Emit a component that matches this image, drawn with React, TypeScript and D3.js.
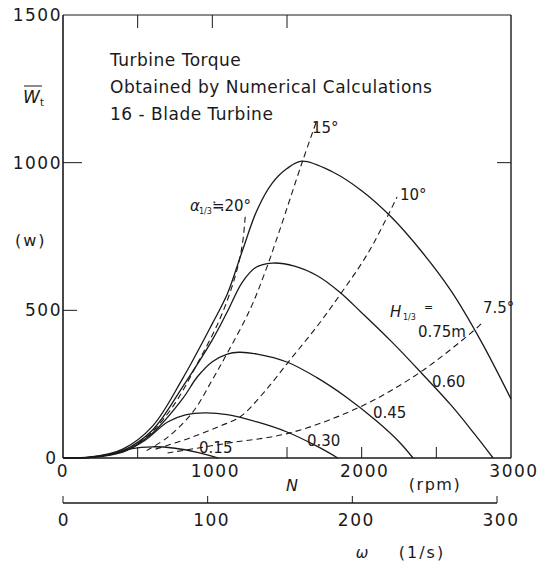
import React from "react";
import * as d3 from "d3";

// ---- data (N in rpm, W in watts) ----
const xTicks = [0, 1000, 2000, 3000];
const yTicks = [0, 500, 1000, 1500];
const omegaTicks = [0, 100, 200, 300];

const h015: [number, number][] = [[0,0],[150,2],[300,11],[450,31],[600,38],[750,33],[900,19],[1040,0]];
const h030: [number, number][] = [[0,0],[200,2],[400,20],[550,60],[700,122],[820,146],[950,153],[1100,147],[1300,122],[1500,88],[1700,40],[1840,0]];
const h045: [number, number][] = [[0,0],[200,3],[400,22],[600,85],[800,200],[900,275],[1000,326],[1100,352],[1180,358],[1300,352],[1500,325],[1700,272],[1900,205],[2100,125],[2250,55],[2344,0]];
const h060: [number, number][] = [[0,0],[200,3],[400,25],[600,95],[800,240],[1000,400],[1100,495],[1200,595],[1290,645],[1400,660],[1550,650],[1700,618],[1850,563],[2000,492],[2200,394],[2400,288],[2600,178],[2750,85],[2880,0]];
const h075: [number, number][] = [[0,0],[200,4],[400,30],[600,108],[800,268],[1000,455],[1100,555],[1200,700],[1300,840],[1400,930],[1500,980],[1600,1005],[1800,970],[2000,905],[2200,815],[2400,700],[2600,565],[2800,395],[3000,200]];

const a20: [number, number][] = [[450,30],[600,90],[750,185],[900,320],[1050,470],[1150,610],[1200,720],[1222,830]];
const a15: [number, number][] = [[560,25],[700,70],[870,156],[1000,265],[1100,355],[1250,500],[1350,625],[1450,770],[1600,999],[1701,1145]];
const a10: [number, number][] = [[620,30],[850,68],[1050,108],[1185,139],[1350,225],[1520,332],[1700,445],[1868,562],[2050,700],[2237,884]];
const a75: [number, number][] = [[700,17],[1100,50],[1520,85],[1989,173],[2391,290],[2779,444],[2815,462]];

const solidSeries = [h015, h030, h045, h060, h075];
const dashedSeries = [a20, a15, a10, a75];

const hLabels = ["0.15", "0.30", "0.45", "0.60", "0.75m"];
const hLabelPos: [number, number][] = [[911,17],[1634,41],[2076,135],[2471,240],[2377,410]];
const angleLabels = ["7.5°", "10°", "15°"];
const angleLabelPos: [number, number][] = [[2812,491],[2257,874],[1667,1100]];

const titleLines = ["Turbine Torque", "Obtained by Numerical Calculations", "16 - Blade Turbine"];

export default function App() {
  const W = 554, H = 567;
  const x = d3.scaleLinear().domain([0, 3000]).range([63, 511]);
  const y = d3.scaleLinear().domain([0, 1500]).range([458, 15]);
  const xo = d3.scaleLinear().domain([0, 300]).range([63, 497]);
  const line = d3.line<[number, number]>().x(d => x(d[0])).y(d => y(d[1])).curve(d3.curveCatmullRom.alpha(0.5));
  const font = "'DejaVu Sans', sans-serif";
  const ink = "#1a1a1a";

  return (
    <svg width={W} height={H} style={{ position: "absolute", left: 0, top: 0, background: "#fff" }} fontFamily={font}>
      <rect x={0} y={0} width={W} height={H} fill="#fff" />
      {/* frame */}
      <line x1={x(0)} x2={x(0)} y1={y(0)} y2={y(1500)} stroke={ink} strokeWidth={1.6} />
      <line x1={x(0)} x2={x(3000)} y1={y(0)} y2={y(0)} stroke={ink} strokeWidth={1.6} />
      <line x1={x(0)} x2={x(3000)} y1={y(1500)} y2={y(1500)} stroke={ink} strokeWidth={1.2} />
      <line x1={x(3000)} x2={x(3000)} y1={y(0)} y2={y(1500)} stroke={ink} strokeWidth={1.4} />
      {/* inner ticks */}
      {[500, 1000].map(v => (
        <line key={"yl" + v} x1={x(0)} x2={x(0) + (v === 1000 ? 19 : 14)} y1={y(v)} y2={y(v)} stroke={ink} strokeWidth={1} />
      ))}
      <line x1={x(3000)} x2={x(3000) - 14} y1={y(1000)} y2={y(1000)} stroke={ink} strokeWidth={1} />
      {[500, 1000, 1500].map(v => (
        <line key={"tt" + v} x1={x(v)} x2={x(v)} y1={y(1500)} y2={y(1500) + 13} stroke={ink} strokeWidth={1} />
      ))}
      {[500, 1500, 2000, 2500].map(v => (
        <line key={"bt" + v} x1={x(v)} x2={x(v)} y1={y(0)} y2={y(0) - 11} stroke={ink} strokeWidth={1} />
      ))}
      {/* y tick labels */}
      {yTicks.map(v => (
        <text key={"ylab" + v} x={v === 0 ? 56 : 62} y={y(v) + 6} textAnchor="end" fontSize={17} letterSpacing={v === 0 ? 0 : 1.5} fill={ink}>{v}</text>
      ))}
      {/* x tick labels */}
      {xTicks.map(v => (
        <text key={"xlab" + v} x={x(v) + (v === 0 ? 0 : 3)} y={477} textAnchor="middle" fontSize={17} letterSpacing={1.5} fill={ink}>{v}</text>
      ))}
      <text x={292} y={491} textAnchor="middle" fontSize={16} fontStyle="italic" fill={ink}>N</text>
      <text x={435} y={490} textAnchor="middle" fontSize={16} letterSpacing={1.5} fill={ink}>(rpm)</text>
      {/* omega axis */}
      <line x1={xo(0)} x2={xo(300)} y1={503} y2={503} stroke={ink} strokeWidth={1.3} />
      {omegaTicks.map(v => (
        <line key={"ot" + v} x1={xo(v)} x2={xo(v)} y1={503} y2={496} stroke={ink} strokeWidth={1} />
      ))}
      {omegaTicks.map(v => (
        <text key={"olab" + v} x={xo(v) + (v === 0 ? 1 : 4)} y={526} textAnchor="middle" fontSize={17} letterSpacing={1.5} fill={ink}>{v}</text>
      ))}
      <text x={362} y={558} textAnchor="middle" fontSize={15} fontStyle="italic" fill={ink}>ω</text>
      <text x={422} y={558} textAnchor="middle" fontSize={16} letterSpacing={2} fill={ink}>(1/s)</text>
      {/* y axis title */}
      <line x1={24} x2={42} y1={86} y2={86} stroke={ink} strokeWidth={1} />
      <text x={23} y={103} fontSize={17} fontStyle="italic" fill={ink}>W</text>
      <text x={40} y={106} fontSize={10} fill={ink}>t</text>
      <text x={15} y={246} fontSize={16} letterSpacing={2} fill={ink}>(w)</text>
      {/* title */}
      {titleLines.map((t, i) => (
        <text key={"t" + i} x={110} y={66 + i * 27} fontSize={17} letterSpacing={0.5} fill={ink}>{t}</text>
      ))}
      {/* curves */}
      {solidSeries.map((s, i) => (
        <path key={"s" + i} d={line(s) || ""} fill="none" stroke={ink} strokeWidth={1.3} />
      ))}
      {dashedSeries.map((s, i) => (
        <path key={"d" + i} d={line(s) || ""} fill="none" stroke={ink} strokeWidth={1.1} strokeDasharray="6 4" />
      ))}
      {/* curve labels */}
      {hLabels.map((t, i) => (
        <text key={"hl" + i} x={x(hLabelPos[i][0])} y={y(hLabelPos[i][1])} fontSize={15} fill={ink}>{t}</text>
      ))}
      <text x={x(2190)} y={y(477)} fontSize={15} fontStyle="italic" fill={ink}>H</text>
      <text x={x(2190) + 13} y={y(477) + 3} fontSize={8} fill={ink}>1/3</text>
      <text x={x(2190) + 34} y={y(477) - 6} fontSize={11} fill={ink}>=</text>
      {angleLabels.map((t, i) => (
        <text key={"al" + i} x={x(angleLabelPos[i][0])} y={y(angleLabelPos[i][1])} fontSize={15} fill={ink}>{t}</text>
      ))}
      <text x={x(850)} y={y(836)} fontSize={15} fontStyle="italic" fill={ink}>α</text>
      <text x={x(850) + 9} y={y(836) + 3} fontSize={8} fill={ink}>1/3</text>
      <text x={x(850) + 22} y={y(836)} fontSize={15} fill={ink}>≒20°</text>
    </svg>
  );
}
